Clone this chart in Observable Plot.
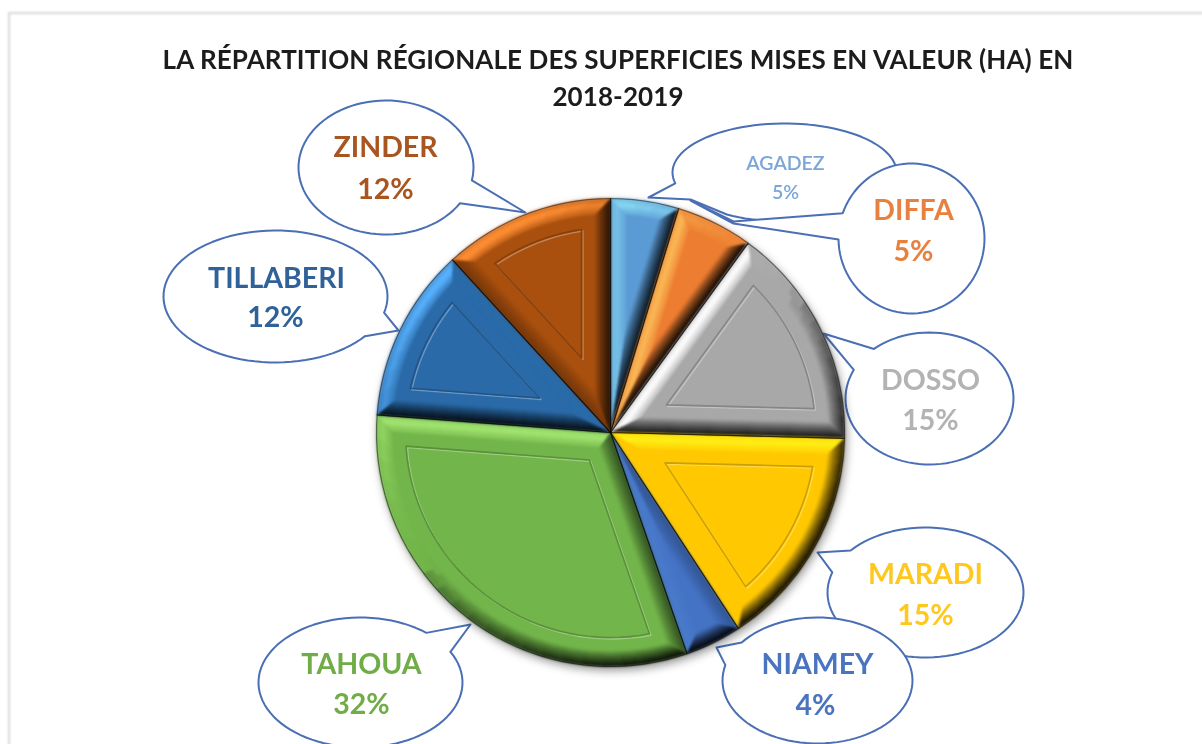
<!DOCTYPE html>
<html><head><meta charset="utf-8">
<script src="https://cdn.jsdelivr.net/npm/d3@7"></script>
<script src="https://cdn.jsdelivr.net/npm/@observablehq/plot@0.6"></script>
<style>
html,body{margin:0;padding:0;background:#fff;overflow:hidden;width:1202px;height:744px}
#card{position:absolute;left:8px;top:12px;right:-6px;bottom:-6px;border:2px solid #d8d8d8;filter:blur(.8px)}
#title{position:absolute;left:0;top:41px;width:1236px;margin:0;text-align:center;font:700 26px/37px Lato,sans-serif;color:#1c1c1c;filter:blur(.7px);letter-spacing:.1px}
#chart{position:absolute;left:0;top:0}
#chart svg{background:transparent}
</style></head><body>
<div id="card"></div>
<div id="chart"></div>
<h2 id="title">LA RÉPARTITION RÉGIONALE DES SUPERFICIES MISES EN VALEUR (HA) EN<br>2018-2019</h2>
<script>
// Data
const regions = ["AGADEZ","DIFFA","DOSSO","MARADI","NIAMEY","TAHOUA","TILLABERI","ZINDER"];
const shares  = [4.7,5.3,15.4,15.4,3.9,31.5,12.0,11.8];
const colors  = ["#5b9bd5","#ed7d31","#a8a8a8","#ffc800","#4472c4","#72b54a","#2a6aa8","#a9500f"];
const labelColors = ["#7ba6d8","#e8803f","#b3b3b3","#ffc81e","#4a74bf","#70ad47","#2f6299","#a9551f"];

// Layout of the pie and of the callouts (in the page's unit scale)
const pie = {cx:610, cy:432, r:234, bevel:16, panel:29};
const callouts = {
  AGADEZ:   {c:[784,172],r:[112,49],tail:[[673,183],[648,197],[690,199],[725,215]],nameAt:[785,163],pctAt:[785,192],size:19.5},
  DIFFA:    {c:[911,238],r:[73,75], tail:[[843,213],[733,221],[690,200],[733,223],[841,239]],nameAt:[913,210],pctAt:[913,251],size:28.5},
  DOSSO:    {c:[929,398],r:[84,66], tail:[[873,348],[823,333],[855,370]],nameAt:[930,380],pctAt:[930,420],size:28.5},
  MARADI:   {c:[925,592],r:[98,65], tail:[[850,550],[817,552],[832,572]],nameAt:[925,574],pctAt:[925,615],size:28.5},
  NIAMEY:   {c:[817,680],r:[95,63], tail:[[743,643],[716,647],[727,665]],nameAt:[817,664],pctAt:[815,705],size:28.5},
  TAHOUA:   {c:[360,682],r:[102,65],tail:[[425,633],[470,624],[448,652]],nameAt:[361,664],pctAt:[361,704],size:28.5},
  TILLABERI:{c:[275,296],r:[112,66],tail:[[382,312],[398,330],[363,335]],nameAt:[276,278],pctAt:[275,317],size:28.5},
  ZINDER:   {c:[385.5,167],r:[87.5,67],tail:[[472,180],[525,212],[460,203]],nameAt:[385,147],pctAt:[385,189],size:28.5}
};

// Geometry helpers: angle measured clockwise from the top
const TAU = Math.PI*2;
const at = (a,rad)=>[pie.cx+rad*Math.sin(a), pie.cy-rad*Math.cos(a)];
const total = d3.sum(shares);
let cum = 0;
const slices = regions.map((name,i)=>{const a0=cum/total*TAU; cum+=shares[i]; return {name,i,a0,a1:cum/total*TAU,color:colors[i]};});

function insetFrame(s,d){
  const h=(s.a1-s.a0)/2, mid=s.a0+h, rad=pie.r-d, da=Math.asin(Math.min(1,d/rad));
  return {apex:at(mid,d/Math.sin(h)), rad, a0:s.a0+da, a1:s.a1-da};
}
function outline(s,d){
  const f=insetFrame(s,d), n=Math.max(4,Math.ceil((f.a1-f.a0)/0.05)), pts=[f.apex];
  for(let k=0;k<=n;k++) pts.push(at(f.a0+(f.a1-f.a0)*k/n,f.rad));
  pts.push(f.apex);
  return pts;
}
const L=[-0.6,-0.8];
function shade(color,nx,ny,t){
  const s=nx*L[0]+ny*L[1];
  if(s>=0){
    const tint=d3.interpolateRgb(d3.color(color).brighter(1.3),"#ffffff")(.12);
    return d3.interpolateRgb(color,tint)(Math.min(1,s*s*1.2*Math.max(0,1-Math.abs(t-.4)*1.3)));
  }
  return d3.interpolateRgb(color,"#000000")(Math.min(.92,Math.pow(-s,.5)*1.05*Math.pow(1-t,.8)));
}

// Polygons of the slices: bevel bands, then face, through the x/y scales
const polys=[]; let pid=0;
function add(pts,fill){const id=pid++; pts.forEach(p=>polys.push({id,x:p[0],y:p[1],fill}));}
const steps=8;
for(const s of slices){
  add(outline(s,0),s.color);
  for(let k=0;k<steps;k++){
    const d0=pie.bevel*k/steps,d1=pie.bevel*(k+1)/steps,t=(k+.5)/steps;
    const A=insetFrame(s,d0),B=insetFrame(s,d1);
    const nS=[Math.sin(s.a0-Math.PI/2),-Math.cos(s.a0-Math.PI/2)];
    const nE=[Math.sin(s.a1+Math.PI/2),-Math.cos(s.a1+Math.PI/2)];
    add([A.apex,at(A.a0,A.rad),at(B.a0,B.rad),B.apex],shade(s.color,nS[0],nS[1],t));
    add([A.apex,at(A.a1,A.rad),at(B.a1,B.rad),B.apex],shade(s.color,nE[0],nE[1],t));
    const n=Math.max(3,Math.ceil((A.a1-A.a0)/0.09));
    for(let j=0;j<n;j++){
      const u0=j/n,u1=(j+1)/n,m=A.a0+(A.a1-A.a0)*(u0+u1)/2;
      add([at(A.a0+(A.a1-A.a0)*u0,A.rad),at(A.a0+(A.a1-A.a0)*u1,A.rad),
           at(B.a0+(B.a1-B.a0)*u1,B.rad),at(B.a0+(B.a1-B.a0)*u0,B.rad)],
          shade(s.color,Math.sin(m),-Math.cos(m),t));
    }
  }
  add(outline(s,pie.bevel),s.color);
}

// Inner panel lines of the wider slices
const panels=[]; slices.filter(s=>s.a1-s.a0>0.5).forEach(s=>{
  outline(s,pie.panel).forEach(p=>panels.push({id:s.name,x:p[0],y:p[1],stroke:d3.interpolateRgb(s.color,"#000")(.2)}));
});
const rim=[]; slices.forEach(s=>outline(s,0).forEach(p=>rim.push({id:s.name,x:p[0],y:p[1]})));

// Callout outlines
const bubbles=[];
regions.forEach(name=>{
  const b=callouts[name],[cx,cy]=b.c,[rx,ry]=b.r,tail=b.tail;
  const tOf=p=>Math.atan2((p[1]-cy)/ry,(p[0]-cx)/rx);
  const t0=tOf(tail[0]),t1=tOf(tail[tail.length-1]);
  let sweep=t0-t1; while(sweep<0) sweep+=TAU;
  if(sweep<Math.PI) sweep-=TAU;
  const pts=[],n=90;
  for(let k=0;k<=n;k++){const t=t1+sweep*k/n; pts.push([cx+rx*Math.cos(t),cy+ry*Math.sin(t)]);}
  tail.slice(1,-1).forEach(p=>pts.push(p));
  pts.push(pts[0]);
  pts.forEach(p=>bubbles.push({id:name,x:p[0],y:p[1]}));
});

const labels=regions.map((name,i)=>({...callouts[name],name,pct:Math.round(shares[i])+"%",color:labelColors[i]}));
const textBlur="blur(.7px)", font="Lato, sans-serif";
const textMarks=(rows,size,weight)=>[
  Plot.text(rows,{x:d=>d.nameAt[0],y:d=>d.nameAt[1],text:"name",fill:"color",fontSize:size,fontWeight:weight,fontFamily:font,imageFilter:textBlur}),
  Plot.text(rows,{x:d=>d.pctAt[0],y:d=>d.pctAt[1],text:"pct",fill:"color",fontSize:size,fontWeight:weight,fontFamily:font,imageFilter:textBlur})
];

const chart=Plot.plot({
  width:1202,height:744,margin:0,
  x:{domain:[0,1202],range:[0,1202],axis:null},
  y:{domain:[0,744],range:[0,744],axis:null},
  color:{type:"identity"},
  marks:[
    Plot.line(bubbles,{x:"x",y:"y",z:"id",fill:"white",stroke:"#4a6fb4",strokeWidth:2,curve:"linear",imageFilter:"blur(.6px)"}),
    Plot.line(rim,{x:d=>d.x+2,y:d=>d.y+4,z:"id",fill:"#000",fillOpacity:.42,imageFilter:"blur(5px)"}),
    Plot.line(polys,{x:"x",y:"y",z:"id",fill:"fill",stroke:"fill",strokeWidth:.5,imageFilter:"blur(.8px)"}),
    Plot.line(panels,{x:d=>d.x+1.5,y:d=>d.y+1.5,z:"id",stroke:"#ffffff",strokeOpacity:.3,strokeWidth:1.4,imageFilter:"blur(.6px)"}),
    Plot.line(panels,{x:"x",y:"y",z:"id",stroke:"stroke",strokeWidth:1.6,imageFilter:"blur(.6px)"}),
    Plot.line(rim,{x:"x",y:"y",z:"id",stroke:"#000",strokeOpacity:.5,strokeWidth:1.2,imageFilter:"blur(.6px)"}),
    ...textMarks(labels.filter(d=>d.size>20),28.5,700),
    ...textMarks(labels.filter(d=>d.size<=20),19.5,600)
  ]
});
document.getElementById("chart").appendChild(chart);
</script>
</body></html>
